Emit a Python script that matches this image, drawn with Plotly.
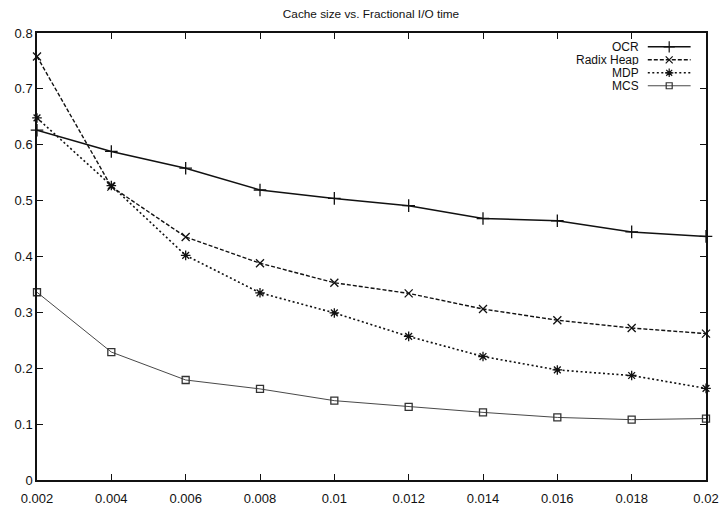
import plotly.graph_objects as go

cache_size = [0.002, 0.004, 0.006, 0.008, 0.010, 0.012, 0.014, 0.016, 0.018, 0.020]
ocr = [0.626, 0.588, 0.558, 0.519, 0.504, 0.491, 0.468, 0.464, 0.444, 0.436]
radix_heap = [0.758, 0.525, 0.435, 0.388, 0.353, 0.334, 0.306, 0.286, 0.272, 0.262]
mdp = [0.648, 0.527, 0.402, 0.335, 0.299, 0.257, 0.221, 0.197, 0.187, 0.164]
mcs = [0.336, 0.229, 0.179, 0.163, 0.142, 0.131, 0.121, 0.112, 0.108, 0.110]

x_tickvals = [0.002, 0.004, 0.006, 0.008, 0.01, 0.012, 0.014, 0.016, 0.018, 0.02]
x_ticktext = ["0.002", "0.004", "0.006", "0.008", "0.01", "0.012", "0.014", "0.016", "0.018", "0.02"]
y_tickvals = [0, 0.1, 0.2, 0.3, 0.4, 0.5, 0.6, 0.7, 0.8]
y_ticktext = ["0", "0.1", "0.2", "0.3", "0.4", "0.5", "0.6", "0.7", "0.8"]

series = [
    ("OCR", ocr, "solid", 1.5, "cross-thin", 9, "#111"),
    ("Radix Heap", radix_heap, "4px,2px", 1.4, "x-thin", 8, "#111"),
    ("MDP", mdp, "2px,2.5px", 1.6, "asterisk", 8, "#111"),
    ("MCS", mcs, "solid", 0.9, "square-open", 7, "#333"),
]

FONT = "Liberation Sans, Arial, Helvetica, sans-serif"
fig = go.Figure()

for name, ys, dash, lw, sym, ms, col in series:
    fig.add_trace(go.Scatter(
        x=cache_size, y=ys, name=name, mode="lines+markers",
        line=dict(color=col, width=lw, dash=dash),
        marker=dict(symbol=sym, size=ms, color=col, line=dict(color=col, width=1.3)),
        cliponaxis=False, showlegend=False,
    ))

# gnuplot-style legend: right-aligned label then line sample (overlay axes in [0,1])
leg_y = [0.969, 0.940, 0.911, 0.882]
for (name, ys, dash, lw, sym, ms, col), ly in zip(series, leg_y):
    fig.add_trace(go.Scatter(
        x=[0.913, 0.977], y=[ly, ly], xaxis="x2", yaxis="y2", mode="lines",
        line=dict(color=col, width=lw, dash=dash), showlegend=False, hoverinfo="skip",
        cliponaxis=False,
    ))
    fig.add_trace(go.Scatter(
        x=[0.945], y=[ly], xaxis="x2", yaxis="y2", mode="markers",
        marker=dict(symbol=sym, size=ms - 1, color=col, line=dict(color=col, width=1.2)),
        showlegend=False, hoverinfo="skip", cliponaxis=False,
    ))
    fig.add_annotation(
        x=0.901, y=ly, xref="x2", yref="y2", text=name, showarrow=False,
        xanchor="right", yanchor="middle", font=dict(family=FONT, size=12, color="#111"),
        borderpad=0, height=11,
    )

fig.update_layout(
    width=719, height=508,
    margin=dict(l=37, r=13, t=33, b=28),
    paper_bgcolor="white", plot_bgcolor="white",
    title=dict(text="Cache size vs. Fractional I/O time", x=371 / 719, xanchor="center",
               y=1 - 14 / 508, yanchor="middle", font=dict(family=FONT, size=11.8, color="#111")),
    font=dict(family=FONT, size=13, color="#111"),
    xaxis=dict(range=[0.002, 0.02], tickvals=x_tickvals, ticktext=x_ticktext,
               ticks="inside", ticklen=6, tickwidth=1, tickcolor="#111",
               showline=True, linecolor="#111", linewidth=1.5, mirror="ticks",
               showgrid=False, zeroline=False, tickfont=dict(size=13),
               automargin=False, ticklabelstandoff=6),
    yaxis=dict(range=[0, 0.8], tickvals=y_tickvals, ticktext=y_ticktext,
               ticks="inside", ticklen=6, tickwidth=1, tickcolor="#111",
               showline=True, linecolor="#111", linewidth=1.5, mirror="ticks",
               showgrid=False, zeroline=False, tickfont=dict(size=13),
               automargin=False),
    xaxis2=dict(overlaying="x", range=[0, 1], visible=False, fixedrange=True),
    yaxis2=dict(overlaying="y", range=[0, 1], visible=False, fixedrange=True),
)

fig.write_html("out.html")
